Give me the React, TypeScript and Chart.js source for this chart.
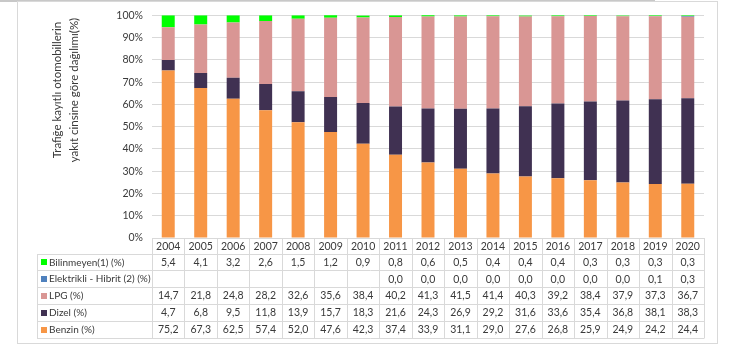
import React, { useEffect, useRef } from "react";
import { Chart, registerables } from "chart.js";

Chart.register(...registerables);

const years = ["2004","2005","2006","2007","2008","2009","2010","2011","2012","2013","2014","2015","2016","2017","2018","2019","2020"];
const benzin = [75.2,67.3,62.5,57.4,52.0,47.6,42.3,37.4,33.9,31.1,29.0,27.6,26.8,25.9,24.9,24.2,24.4];
const dizel = [4.7,6.8,9.5,11.8,13.9,15.7,18.3,21.6,24.3,26.9,29.2,31.6,33.6,35.4,36.8,38.1,38.3];
const lpg = [14.7,21.8,24.8,28.2,32.6,35.6,38.4,40.2,41.3,41.5,41.4,40.3,39.2,38.4,37.9,37.3,36.7];
const elektrikli: (number | null)[] = [null,null,null,null,null,null,null,0.0,0.0,0.0,0.0,0.0,0.0,0.0,0.0,0.1,0.3];
const bilinmeyen = [5.4,4.1,3.2,2.6,1.5,1.2,0.9,0.8,0.6,0.5,0.4,0.4,0.4,0.3,0.3,0.3,0.3];
const yTicks = [0,10,20,30,40,50,60,70,80,90,100];
const yTitle = ["Trafiğe kayıtlı otomobillerin", "yakıt cinsine göre dağılımı(%)"];

const FONT = "Lato, 'Open Sans', sans-serif";
const TEXT = "#3A3A3A";
const GRID = "#D9D9D9";

const seriesDefs = [
  { label: "Benzin (%)", data: benzin, color: "#F79646" },
  { label: "Dizel (%)", data: dizel, color: "#403152" },
  { label: "LPG (%)", data: lpg, color: "#D99694" },
  { label: "Elektrikli - Hibrit (2) (%)", data: elektrikli, color: "#4F81BD" },
  { label: "Bilinmeyen(1) (%)", data: bilinmeyen, color: "#00FF00" },
];

const fmt = (v: number | null) => (v === null || v === undefined ? "" : v.toFixed(1).replace(".", ","));

const tablePlugin = {
  id: "tablePlugin",
  afterDraw(chart: any) {
    const ctx = chart.ctx as CanvasRenderingContext2D;
    const xs = chart.scales.x;
    const area = chart.chartArea;
    const n = years.length;
    const cw = (area.right - area.left) / n;
    const top = area.bottom;
    const headerH = 15.5;
    const rowH = 16.8;
    const legendLeft = 37;
    ctx.save();
    // frame
    ctx.fillStyle = "#C8C8C8";
    ctx.fillRect(0, 0, 655, 2);
    ctx.strokeStyle = GRID;
    ctx.lineWidth = 1;
    ctx.strokeRect(17.5, 1.5, 700, 342);

    // table lines
    ctx.strokeStyle = GRID;
    ctx.beginPath();
    ctx.moveTo(area.left, Math.round(top) + 0.5);
    ctx.lineTo(area.right, Math.round(top) + 0.5);
    const rows = [...seriesDefs].reverse();
    for (let r = 0; r <= rows.length; r++) {
      const y = Math.round(top + headerH + r * rowH) + 0.5;
      ctx.moveTo(legendLeft, y);
      ctx.lineTo(area.right, y);
    }
    const bottom = Math.round(top + headerH + rows.length * rowH) + 0.5;
    for (let i = 0; i <= n; i++) {
      const x = Math.round(area.left + i * cw) + 0.5;
      ctx.moveTo(x, Math.round(top));
      ctx.lineTo(x, bottom);
    }
    ctx.moveTo(legendLeft + 0.5, Math.round(top + headerH));
    ctx.lineTo(legendLeft + 0.5, bottom);
    ctx.stroke();

    ctx.fillStyle = TEXT;
    ctx.font = `10.5px ${FONT}`;
    ctx.textAlign = "center";
    ctx.textBaseline = "middle";
    years.forEach((yr, i) => {
      const cx = xs.getPixelForValue(i);
      ctx.fillText(yr, cx, top + headerH / 2 + 0.5);
    });
    rows.forEach((s, r) => {
      const cy = top + headerH + r * rowH + rowH / 2 + 0.5;
      ctx.fillStyle = s.color;
      ctx.fillRect(legendLeft + 4, Math.round(cy) - 3, 6, 6);
      ctx.fillStyle = TEXT;
      ctx.textAlign = "left";
      ctx.font = `10px ${FONT}`;
      ctx.fillText(s.label, legendLeft + 12, cy);
      ctx.font = `10.5px ${FONT}`;
      ctx.textAlign = "center";
      (s.data as (number | null)[]).forEach((v, i) => {
        const cx = xs.getPixelForValue(i);
        ctx.fillText(fmt(v), cx, cy);
      });
    });

    // y title
    ctx.font = `11.5px ${FONT}`;
    ctx.fillStyle = TEXT;
    ctx.translate(66, 90);
    ctx.rotate(-Math.PI / 2);
    ctx.textAlign = "center";
    ctx.fillText(yTitle[0], 0, -8.5);
    ctx.fillText(yTitle[1], 0, 8.5);
    ctx.restore();
  },
};

export default function App() {
  const ref = useRef<HTMLCanvasElement>(null);
  useEffect(() => {
    document.body.style.margin = "0";
    const chart = new Chart(ref.current as HTMLCanvasElement, {
      type: "bar",
      data: {
        labels: years,
        datasets: seriesDefs.map((s) => ({
          label: s.label,
          data: s.data as any,
          backgroundColor: s.color,
          borderWidth: 0,
          barPercentage: 0.4,
          categoryPercentage: 1,
        })),
      },
      options: {
        animation: false,
        responsive: false,
        maintainAspectRatio: false,
        layout: { padding: { left: 0, right: 28, top: 14, bottom: 113 } },
        plugins: { legend: { display: false }, tooltip: { enabled: false } },
        scales: {
          x: { stacked: true, display: false, offset: true },
          y: {
            stacked: true,
            min: 0,
            max: 100,
            afterFit: (s: any) => { s.width = 152; },
            afterBuildTicks: (s: any) => { s.ticks = yTicks.map((v) => ({ value: v })); },
            border: { display: false },
            grid: { color: GRID, drawTicks: false },
            ticks: {
              padding: 9,
              color: TEXT,
              font: { family: FONT, size: 10.5 },
              callback: (v: any) => v + "%",
            },
          },
        },
      },
      plugins: [tablePlugin],
    });
    return () => chart.destroy();
  }, []);
  return (
    <div style={{ width: 732, height: 351, position: "relative" }}>
      <canvas ref={ref} width={732} height={351} style={{ width: 732, height: 351 }} />
    </div>
  );
}
